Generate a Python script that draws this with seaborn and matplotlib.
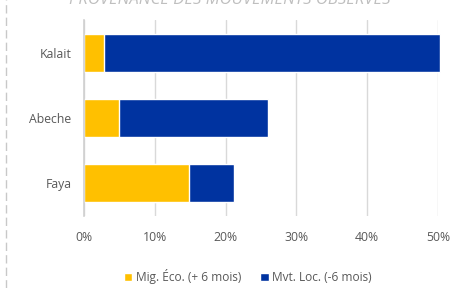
import matplotlib
matplotlib.use("Agg")
import matplotlib.pyplot as plt
import pandas as pd
import seaborn as sns
from matplotlib.ticker import PercentFormatter

LOCATIONS = ["Kalait", "Abeche", "Faya"]
MIG_ECO = [0.028, 0.049, 0.148]   # Mig. Éco. (+ 6 mois)
MVT_LOC = [0.475, 0.211, 0.064]   # Mvt. Loc. (-6 mois)
SERIES = ["Mig. Éco. (+ 6 mois)", "Mvt. Loc. (-6 mois)"]
COLORS = ["#FFC000", "#0033A0"]
TITLE = "PROVENANCE DES MOUVEMENTS OBSERVÉS"

sns.set_style("white")
plt.rcParams["font.family"] = ["Open Sans", "DejaVu Sans"]

df = pd.DataFrame({"loc": LOCATIONS, "eco": MIG_ECO, "loc_mvt": MVT_LOC})
df["total"] = df["eco"] + df["loc_mvt"]

fig = plt.figure(figsize=(4.59, 2.88), dpi=100)
ax = fig.add_axes([0.183, 0.25, 0.771, 0.681])

# stacked: draw total first (blue), then the yellow part on top
sns.barplot(data=df, y="loc", x="total", color=COLORS[1], orient="h",
            width=0.58, ax=ax, saturation=1, label=SERIES[1])
sns.barplot(data=df, y="loc", x="eco", color=COLORS[0], orient="h",
            width=0.58, ax=ax, saturation=1, label=SERIES[0])
for p in ax.patches:
    p.set_clip_on(False)

ax.set_xlim(0, 0.5)
ax.set_xticks([0, 0.1, 0.2, 0.3, 0.4, 0.5])
ax.xaxis.set_major_formatter(PercentFormatter(1.0, decimals=0))
ax.set_xlabel("")
ax.set_ylabel("")
ax.grid(axis="x", color="#d9d9d9", lw=1)
ax.set_axisbelow(True)
for s in ["top", "right", "bottom"]:
    ax.spines[s].set_visible(False)
ax.spines["left"].set_color("#d0d0d0")
ax.spines["left"].set_linewidth(1.2)
ax.tick_params(axis="both", length=0, labelsize=8.8, colors="#595959", pad=9)
ax.tick_params(axis="x", pad=11)

handles, labels = ax.get_legend_handles_labels()
order = [labels.index(s) for s in SERIES]
leg = fig.legend([handles[i] for i in order], SERIES, loc="center",
                 bbox_to_anchor=(0.54, 0.04), ncol=2, frameon=False,
                 fontsize=8.6, handlelength=0.7, handleheight=0.7,
                 handletextpad=0.3, columnspacing=1.6)
for t in leg.get_texts():
    t.set_color("#595959")
if ax.get_legend():
    ax.get_legend().remove()

fig.text(0.5, 1.0, TITLE, ha="center", va="center", fontsize=12,
         style="italic", color="#bfbfbf")
fig.add_artist(plt.Line2D([0.013, 0.013], [0, 1], transform=fig.transFigure,
                          color="#c8c8c8", lw=1, ls=(0, (6, 3))))

fig.savefig("out.png", dpi=100)
